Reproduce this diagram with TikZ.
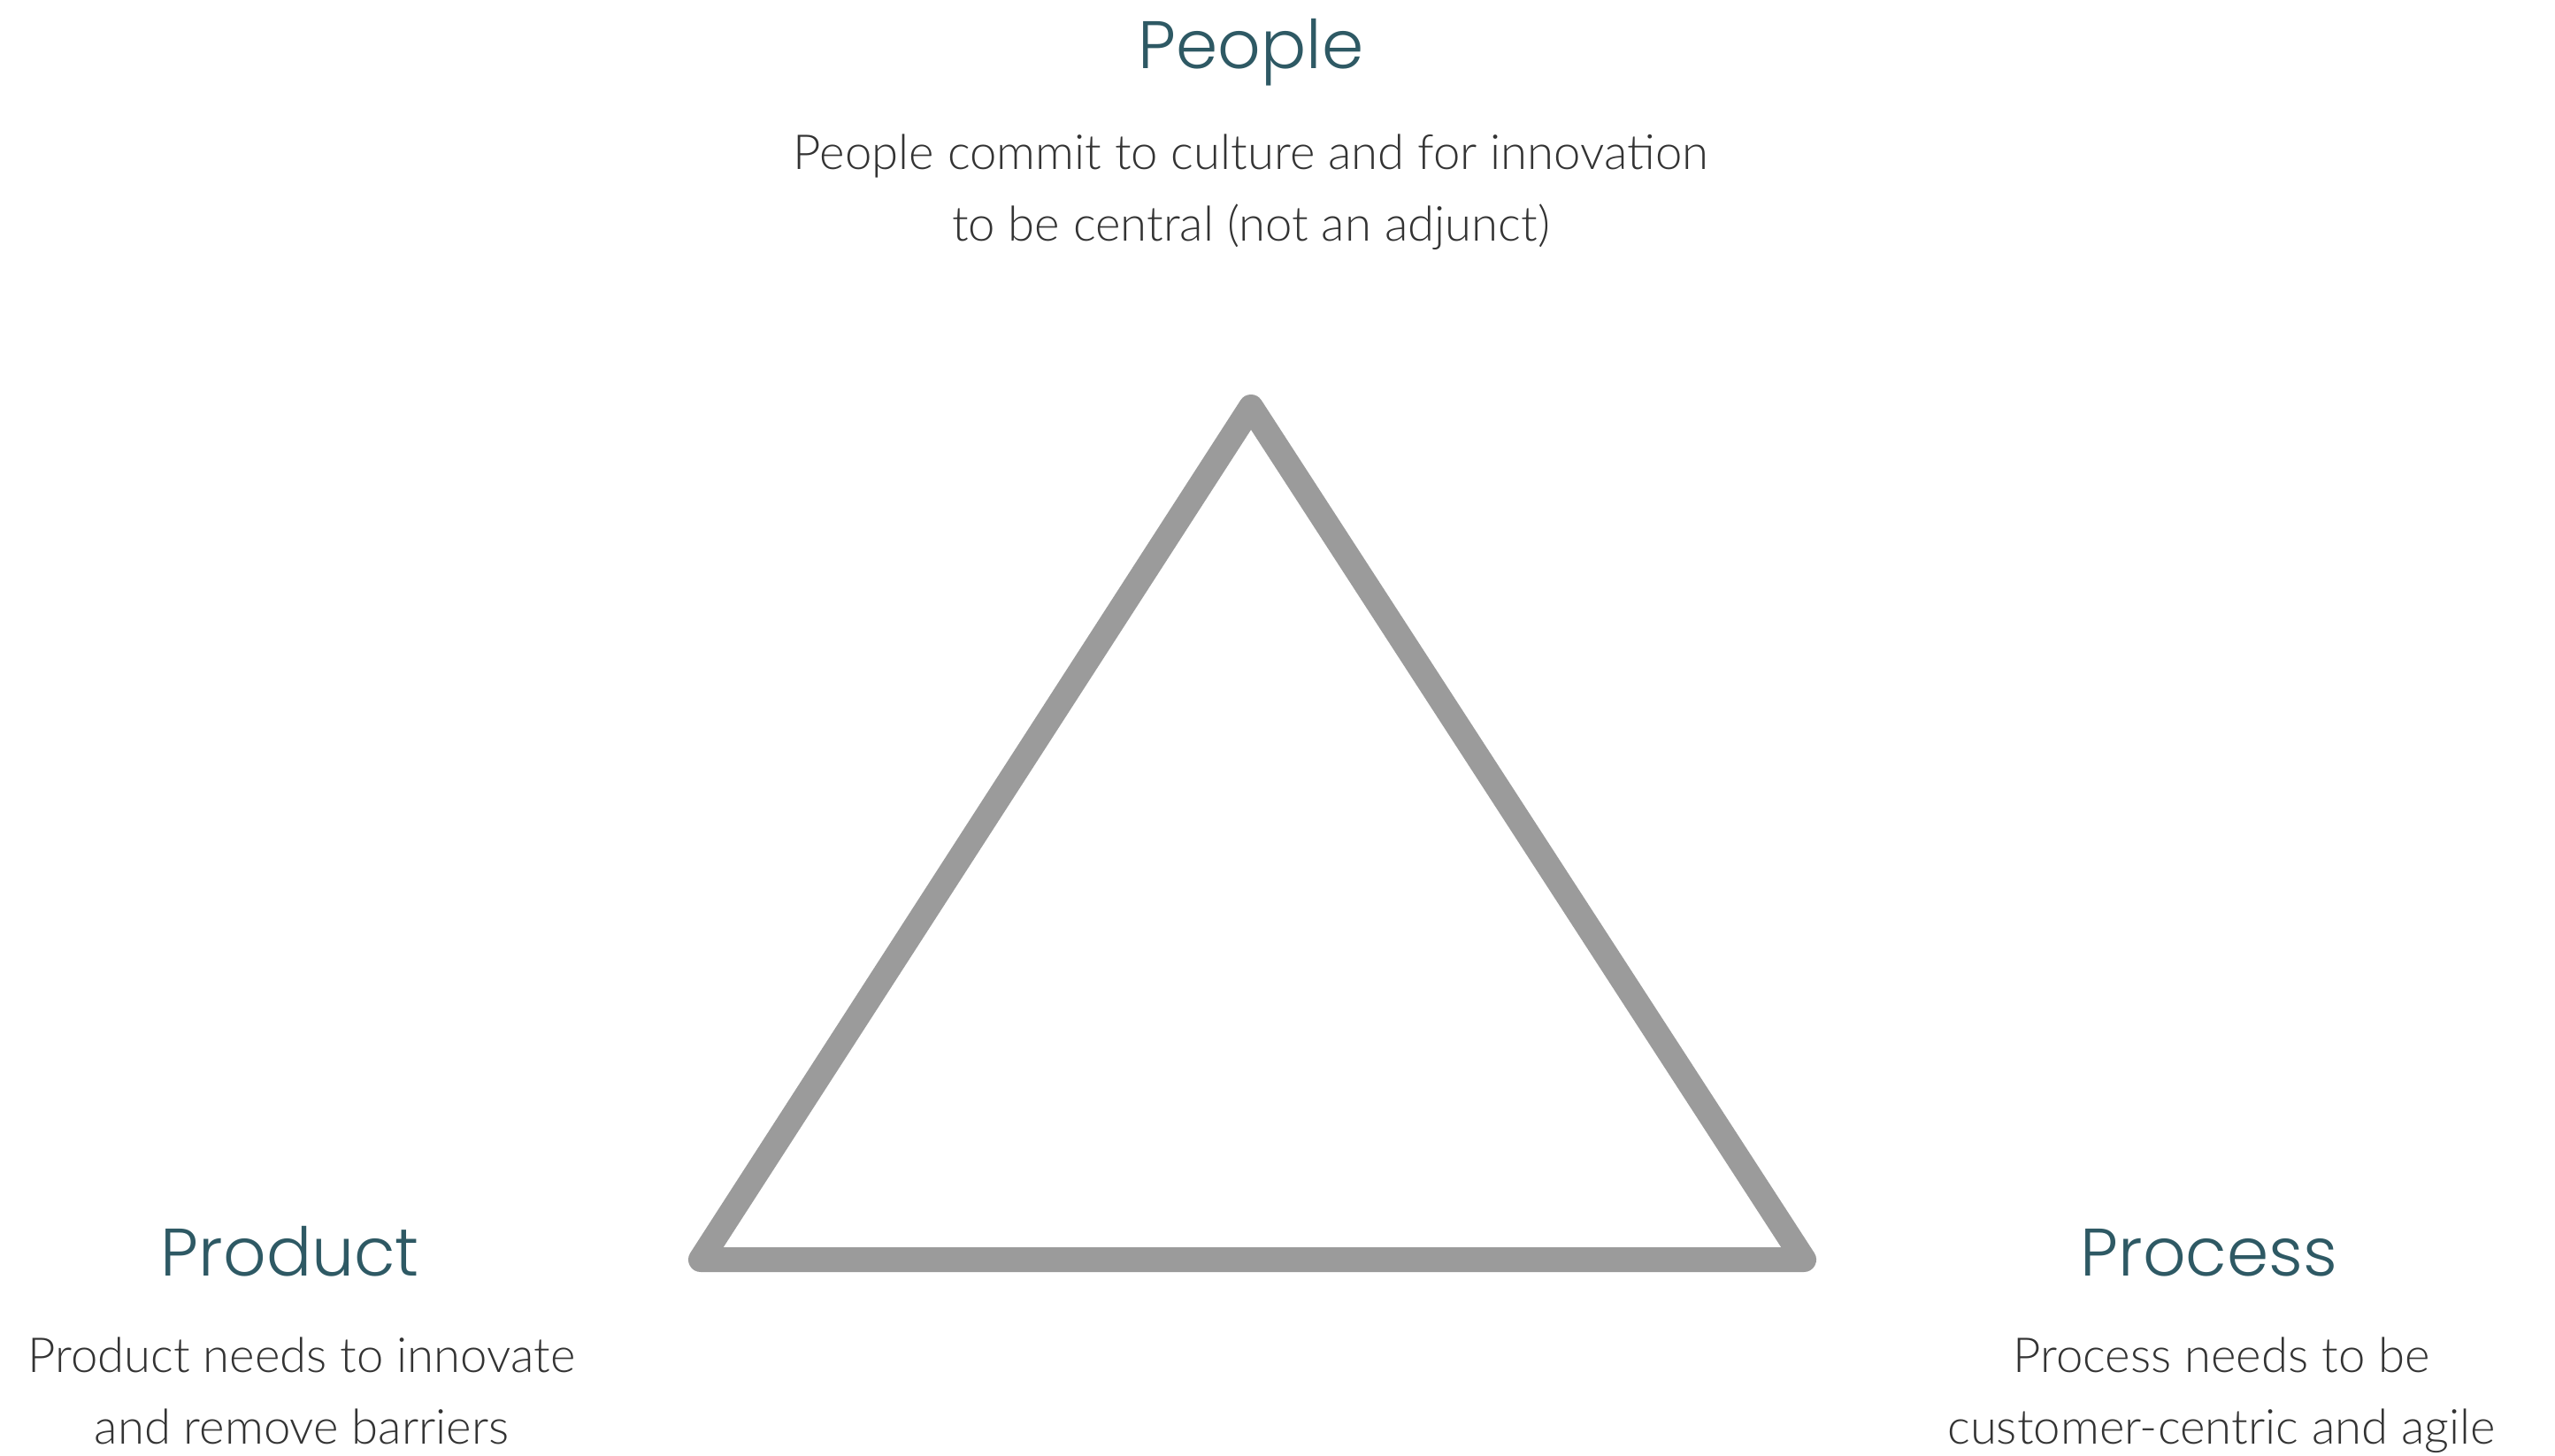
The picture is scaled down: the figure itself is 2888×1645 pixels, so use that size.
\documentclass[tikz,border=0pt]{standalone}
\usepackage{fontspec}
\setmainfont{Lato}[UprightFont=* Light]
\newfontfamily\headfont{Poppins}[UprightFont=* Light]
\usetikzlibrary{positioning}

\definecolor{headteal}{HTML}{2E5964}
\definecolor{edgegrey}{HTML}{9B9B9B}
\definecolor{blurbgrey}{HTML}{333333}

\begin{document}
\begin{tikzpicture}[
            x = 0.01cm, y = -0.01cm, % one unit per pixel, y downwards
            line join = round,
            line cap = round,
        ]

        \tikzstyle{title}=[
            anchor = base,
            text = headteal,
            font = \headfont\fontsize{21.6pt}{26pt}\selectfont
        ]
        \tikzstyle{blurb}=[
            anchor = base, % baseline of the last line
            align = center,
            text = blurbgrey,
            inner sep = 0pt,
            font = \fontsize{15.5pt}{23pt}\selectfont
        ]
        \tikzstyle{edge}=[
            draw = edgegrey,
            line width = 0.28cm
        ]

        \useasboundingbox (0,0) rectangle (2888,1645);

        % corners of the triangle
        \coordinate (top) at (1414,460);
        \coordinate (left) at (792,1424);
        \coordinate (right) at (2039,1424);

        \draw[edge] (top) -- (left) -- (right) -- cycle;

        \node[title] (people) at (1414,77) {People};
        \node[blurb] (peopletext) at (1414,272) {People commit to culture and for innovation\\to be central (not an adjunct)};

        \node[title] (product) at (328,1442) {Product};
        \node[blurb] (producttext) at (341,1632) {Product needs to innovate\\and remove barriers};

        \node[title] (process) at (2497,1442) {Process};
        \node[blurb] (processtext) at (2511,1632) {Process needs to be\\customer-centric and agile};
    \end{tikzpicture}
\end{document}
